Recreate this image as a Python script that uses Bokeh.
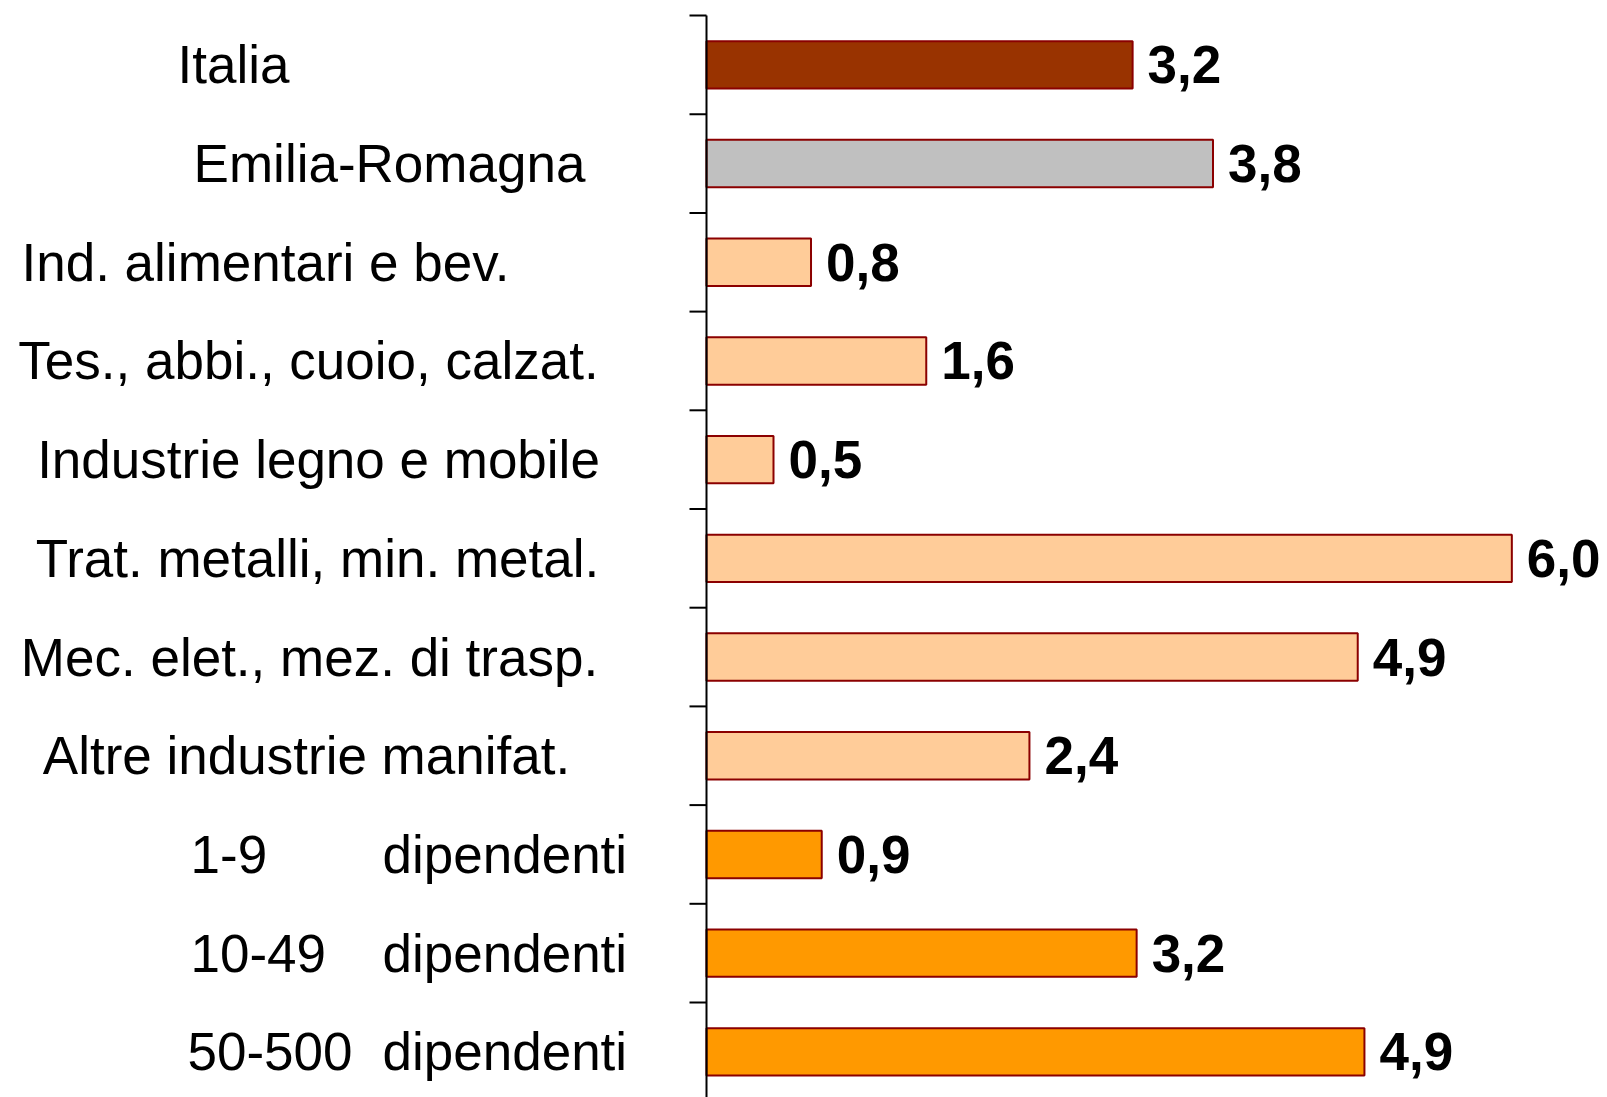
from bokeh.plotting import figure
from bokeh.models import Range1d, ColumnDataSource
from bokeh.core.properties import value
from bokeh.embed import file_html
from bokeh.resources import INLINE

# ---- data ----
categories = ["Italia", "Emilia-Romagna", "Ind. alimentari e bev.",
              "Tes., abbi., cuoio, calzat.", "Industrie legno e mobile",
              "Trat. metalli, min. metal.", "Mec. elet., mez. di trasp.",
              "Altre industrie manifat.", "1-9", "10-49", "50-500"]
values = [3.18, 3.78, 0.78, 1.64, 0.50, 6.01, 4.86, 2.41, 0.86, 3.21, 4.91]
groups = ["italia", "regione", "settore", "settore", "settore", "settore",
          "settore", "settore", "classe", "classe", "classe"]
size_suffix = "dipendenti"
value_labels = [f"{v:.1f}".replace(".", ",") for v in values]

group_colors = {"italia": "#993300", "regione": "#C0C0C0",
                "settore": "#FFCC99", "classe": "#FF9900"}

# ---- layout (pixels) ----
W, H = 1607, 1097
AXIS_PX = 706          # canvas x of the value-axis line
PX_PER_UNIT = 134.0
TOP_PX = 15            # canvas y of the top band edge
BAND_PX = 98.7
n = len(categories)

def px2x(px):
    return (px - AXIS_PX) / PX_PER_UNIT

x_start = px2x(0)
x_end = px2x(W)
y_end = n + TOP_PX / BAND_PX
y_start = n - (H - TOP_PX) / BAND_PX

p = figure(width=W, height=H, output_backend="svg", toolbar_location=None,
           x_range=Range1d(x_start, x_end), y_range=Range1d(y_start, y_end),
           x_axis_type=None, y_axis_type=None,
           min_border=0, min_border_left=0, min_border_right=0,
           min_border_top=0, min_border_bottom=0)
p.outline_line_color = None
p.grid.visible = False
p.background_fill_color = "white"
p.border_fill_color = "white"

ycent = [n - i - 0.5 for i in range(n)]
src = ColumnDataSource(dict(
    y=ycent, v=values, lab=value_labels,
    color=[group_colors[g] for g in groups],
))

p.hbar(y="y", left=0, right="v", height=0.48, source=src,
       fill_color="color", line_color="#8B0000", line_width=2)

FONT = "Liberation Sans"
FS = "53px"
p.text(x="v", y="y", text="lab", source=src, x_offset=15,
       text_font=value(FONT), text_font_size=FS, text_font_style="bold",
       text_baseline="middle", text_align="left", text_color="black")

# category labels (irregular placement as in the original)
label_spec = [  # (canvas x, align)
    (233, "center"), (389, "center"), (265, "center"), (308, "center"),
    (318, "center"), (317, "center"), (309, "center"), (306, "center"),
    (190, "left"), (190, "left"), (187, "left"),
]
for i, (cat, (px, al)) in enumerate(zip(categories, label_spec)):
    p.text(x=[px2x(px)], y=[ycent[i]], text=[cat], text_font=value(FONT),
           text_font_size=FS, text_baseline="middle", text_align=al,
           text_color="black")
for i, g in enumerate(groups):
    if g == "classe":
        p.text(x=[px2x(382)], y=[ycent[i]], text=[size_suffix],
               text_font=value(FONT), text_font_size=FS,
               text_baseline="middle", text_align="left", text_color="black")

# value axis line and category ticks
p.segment(x0=[0], y0=[-1], x1=[0], y1=[n], line_color="black", line_width=2)
tick_len = 17 / PX_PER_UNIT
bounds = list(range(0, n + 1))
p.segment(x0=[-tick_len] * len(bounds), y0=bounds, x1=[0] * len(bounds),
          y1=bounds, line_color="black", line_width=2)

open("out.html", "w").write(file_html(p, INLINE))
